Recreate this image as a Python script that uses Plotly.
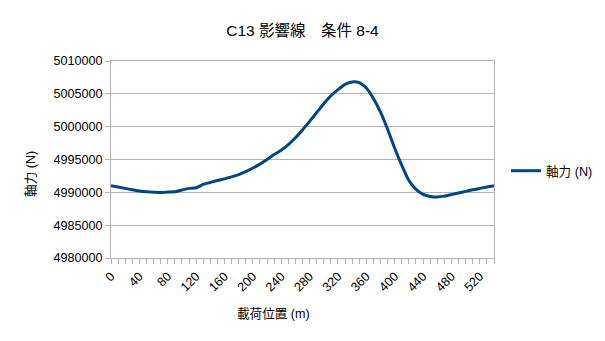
import plotly.graph_objects as go

positions = list(range(0, 550, 10))
axial_force = [
    4991000, 4990800, 4990600, 4990380, 4990200, 4990080, 4990000, 4989980, 4990050, 4990100,
    4990350, 4990600, 4990700, 4991200, 4991500, 4991800, 4992050, 4992350, 4992700, 4993150,
    4993700, 4994300, 4995000, 4995750, 4996400, 4997250, 4998300, 4999500, 5000800, 5002150,
    5003500, 5004700, 5005650, 5006450, 5006800, 5006700, 5005900, 5004300, 5002200, 4999600,
    4996700, 4994100, 4991800, 4990450, 4989700, 4989380, 4989300, 4989420, 4989650, 4989900,
    4990150, 4990400, 4990600, 4990800, 4991000,
]
x_tick_vals = list(range(0, 550, 10))
x_tick_text = [str(v) if v % 40 == 0 and v <= 520 else "" for v in x_tick_vals]
y_tick_vals = [4980000, 4985000, 4990000, 4995000, 5000000, 5005000, 5010000]

title_text = "C13 影響線　条件 8-4"
series_name = "軸力 (N)"
x_title = "載荷位置 (m)"
y_title = "軸力 (N)"

FONT = "Liberation Sans, Noto Sans CJK JP, sans-serif"
GRID = "#b3b3b3"

fig = go.Figure()
fig.add_trace(go.Scatter(
    x=positions, y=axial_force, mode="lines", name=series_name,
    line=dict(color="#004586", width=3, shape="spline", smoothing=0.5),
))

fig.update_layout(
    width=605, height=341,
    margin=dict(l=111, r=111, t=61, b=83, autoexpand=False),
    paper_bgcolor="white", plot_bgcolor="white",
    font=dict(family=FONT, size=12.6, color="#000000"),
    title=dict(text=title_text, x=0.5, xref="paper", xanchor="center",
               y=1 - 31 / 341, yref="container", yanchor="middle",
               font=dict(size=15.5, family=FONT)),
    showlegend=True,
    legend=dict(x=1.0 + 12 / 383, xanchor="left", y=(258 - 171) / 197, yanchor="middle",
                font=dict(size=12.6, family=FONT), bgcolor="rgba(0,0,0,0)"),
    xaxis=dict(
        range=[0, 540], tickmode="array", tickvals=x_tick_vals, ticktext=x_tick_text,
        tickangle=-45, ticks="outside", ticklen=5, tickcolor=GRID,
        showgrid=False, showline=True, linecolor=GRID, linewidth=1, mirror=True,
        zeroline=False,
    ),
    yaxis=dict(
        range=[4980000, 5010000], tickmode="array", tickvals=y_tick_vals,
        ticktext=[str(v) for v in y_tick_vals],
        ticks="outside", ticklen=5, tickcolor=GRID,
        showgrid=True, gridcolor=GRID, gridwidth=1,
        showline=True, linecolor=GRID, linewidth=1, mirror=True, zeroline=False,
    ),
    annotations=[
        dict(text=x_title, xref="paper", yref="paper", x=(273 - 111) / 383,
             y=-(314 - 258) / 197, xanchor="center", yanchor="middle",
             showarrow=False, font=dict(size=12.6, family=FONT)),
        dict(text=y_title, xref="paper", yref="paper", x=-(111 - 31) / 383,
             y=(258 - 174) / 197, xanchor="center", yanchor="middle", textangle=-90,
             showarrow=False, font=dict(size=12.6, family=FONT)),
    ],
)

fig.write_html("out.html")
